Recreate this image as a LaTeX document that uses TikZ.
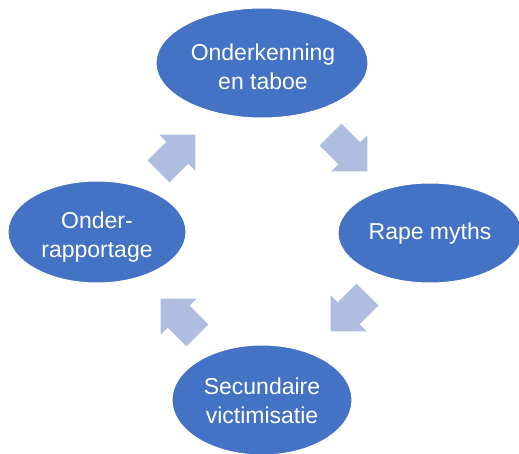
\documentclass[tikz,border=0pt]{standalone}
\usepackage{fontspec}
\setmainfont{Liberation Sans}
\usetikzlibrary{shapes.geometric}
\definecolor{ellblue}{HTML}{4472C4}
\definecolor{arrblue}{HTML}{AFBDE0}
\begin{document}
\begin{tikzpicture}[x=1pt,y=-1pt,
  cyc/.style={ellipse, fill=ellblue, draw=white, line width=1pt, inner sep=0pt},
  lbl/.style={text=white, align=center, inner sep=0pt, font=\fontsize{23}{29}\selectfont},
  blockarrow/.style={fill=arrblue, draw=none}]
\useasboundingbox (0,0) rectangle (519,454);
\clip (0,0) rectangle (519,454);
\fill[white] (0,0) rectangle (519,454);
% ellipses
\node[cyc, minimum width=212pt, minimum height=110pt] (top) at (262,63) {};
\node[cyc, minimum width=184pt, minimum height=100pt] (right) at (430,233) {};
\node[cyc, minimum width=180pt, minimum height=110pt] (bottom) at (262,400) {};
\node[cyc, minimum width=178pt, minimum height=102pt] (left) at (97,232) {};
% labels
\node[lbl] (toptext) at (263,67) {Onderkenning\\en taboe};
\node[lbl] (righttext) at (430,234) {Rape myths};
\node[lbl] (bottomtext) at (262,401) {Secundaire\\victimisatie};
\node[lbl] (lefttext) at (97,237) {Onder-\\rapportage};
% block arrows
\foreach \cx/\cy/\ang in {349/153/-45, 349/313/-135, 179/317/135, 177/153/45}{
  \begin{scope}[shift={(\cx,\cy)}, rotate=\ang]
    \fill[blockarrow] (26,0) -- (0.5,25.5) -- (0.5,15.5) -- (-26,15.5) -- (-26,-15.5)
      -- (0.5,-15.5) -- (0.5,-25.5) -- cycle;
  \end{scope}
}
\end{tikzpicture}
\end{document}
